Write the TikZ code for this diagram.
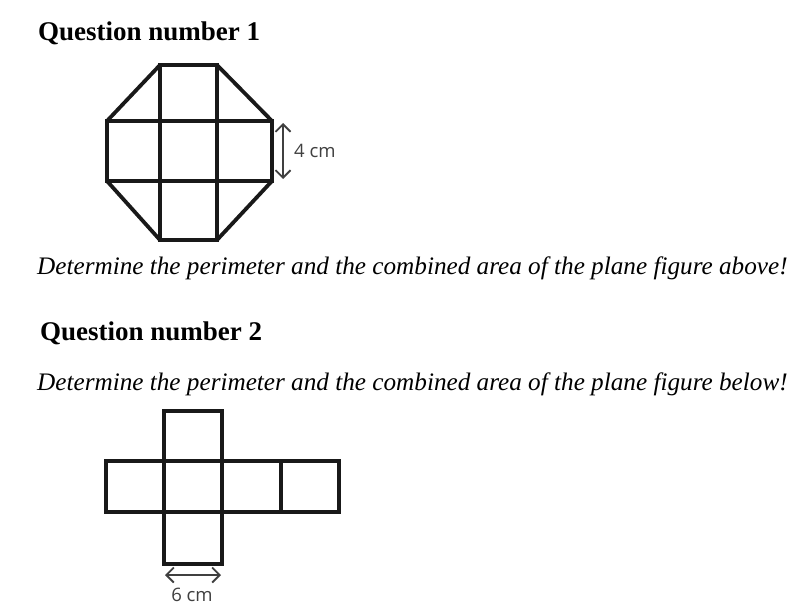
\documentclass[tikz,border=0pt]{standalone}
\usepackage{fontspec}
\setmainfont{Liberation Serif}
\newfontfamily\labfont{Open Sans}
\usetikzlibrary{arrows.meta}
\tikzset{
  fig/.style={line width=3.8pt, line join=miter, line cap=rect, black!90},
  dim/.style={line width=1.8pt, black!75, {Straight Barb[length=7.5pt,width=15pt]}-{Straight Barb[length=7.5pt,width=15pt]}},
  head/.style={anchor=base west, inner sep=0pt, font=\fontsize{27}{32}\selectfont\bfseries},
  sent/.style={anchor=base west, inner sep=0pt, font=\fontsize{25.2}{30}\selectfont\itshape},
  lab/.style={inner sep=0pt, text=black!75, font=\labfont\fontsize{18.5}{22}\selectfont},
}
\begin{document}
\begin{tikzpicture}[x=1pt,y=-1pt]
\useasboundingbox (0,0) rectangle (795,613);
\fill[white] (0,0) rectangle (795,613);
% texts
\node[head] (q1) at (38,40) {Question number 1};
\node[sent] (s1) at (37,274) {Determine the perimeter and the combined area of the plane figure above!};
\node[head] (q2) at (40,340) {Question number 2};
\node[sent] (s2) at (37,390) {Determine the perimeter and the combined area of the plane figure below!};
% figure 1: octagon of squares and triangles
\draw[fig] (160,65) -- (217,65) -- (272,121) -- (272,181) -- (217,240) -- (160,240) -- (107,181) -- (107,121) -- cycle;
\draw[fig] (107,121) -- (272,121) (107,181) -- (272,181)
           (160,65) -- (160,240) (217,65) -- (217,240);
\coordinate (a1) at (283,123);
\coordinate (a2) at (283,179);
\draw[dim] (a1) -- (a2);
\node[lab, anchor=west] (l1) at (294,151) {4 cm};
% figure 2: cross of squares
\draw[fig] (164,411) rectangle (222,564);
\draw[fig] (106,461) rectangle (339,512);
\draw[fig] (164,461) -- (164,512) (222,461) -- (222,512) (281,461) -- (281,512);
\coordinate (b1) at (165,575);
\coordinate (b2) at (221,575);
\draw[dim] (b1) -- (b2);
\node[lab] (l2) at (192,595) {6 cm};
\end{tikzpicture}
\end{document}
